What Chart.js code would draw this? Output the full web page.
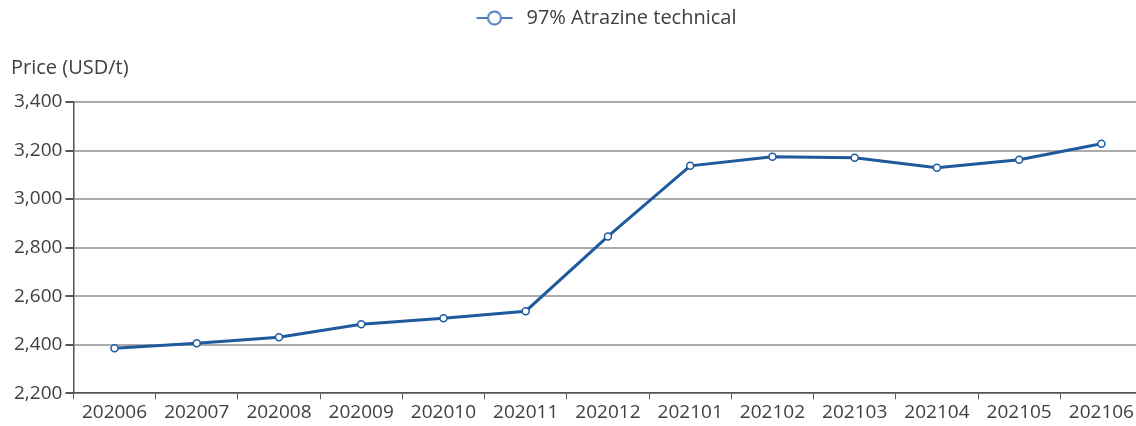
<!DOCTYPE html>
<html>
<head>
<meta charset="utf-8">
<script src="https://cdn.jsdelivr.net/npm/chart.js@4/dist/chart.umd.min.js"></script>
<style>
  html, body { margin: 0; padding: 0; background: #fff; overflow: hidden; }
  /* the original plot runs slightly past the right edge */
  #wrap { width: 1148px; height: 426px; }
</style>
</head>
<body>
<div id="wrap"><canvas id="chart"></canvas></div>
<script>
const months = ["202006", "202007", "202008", "202009", "202010", "202011", "202012",
    "202101", "202102", "202103", "202104", "202105", "202106"];
const atrazine = [2385, 2406, 2431, 2484, 2509, 2538, 2846, 3137, 3174, 3170, 3129, 3162, 3228];
const seriesName = "97% Atrazine technical";
const yTitle = "Price (USD/t)";

const blue = "#1f5a9e";
const font = "'Open Sans', 'Noto Sans', sans-serif";

// legend marker: line with hollow circle
const marker = document.createElement("canvas");
marker.width = 38;
marker.height = 16;
(function () {
    const c = marker.getContext("2d");
    c.strokeStyle = "#4f7fbf";
    c.lineWidth = 2;
    c.beginPath();
    c.moveTo(1, 8); c.lineTo(37, 8);
    c.stroke();
    c.fillStyle = "#fff";
    c.beginPath();
    c.arc(19, 8, 6.5, 0, Math.PI * 2);
    c.fill();
    c.stroke();
})();

// the legend sits a bit right of centre in the original
const shiftLegend = {
    id: "shiftLegend",
    afterLayout(chart) {
        chart.legend.left += 25;
        chart.legend.right += 25;
    },
};

new Chart(document.getElementById("chart"), {
    type: "line",
    data: {
        labels: months,
        datasets: [{
            label: seriesName,
            data: atrazine,
            borderColor: blue,
            borderWidth: 3,
            pointBackgroundColor: "#fff",
            pointBorderColor: blue,
            pointBorderWidth: 1.5,
            pointRadius: 3.5,
            pointStyle: "circle",
            tension: 0,
        }],
    },
    plugins: [shiftLegend],
    options: {
        responsive: true,
        maintainAspectRatio: false,
        animation: false,
        layout: { padding: { left: 11, right: 0, top: 0, bottom: 0 } },
        plugins: {
            legend: {
                position: "top",
                weight: 3000,
                labels: {
                    usePointStyle: true,
                    pointStyle: marker,
                    pointStyleWidth: 44,
                    color: "#404040",
                    font: { family: font, size: 20 },
                    padding: 8,
                },
            },
            title: {
                display: true,
                text: yTitle,
                align: "start",
                color: "#404040",
                font: { family: font, size: 20, weight: "normal" },
                padding: { top: 18, bottom: 22 },
            },
            tooltip: { enabled: false },
        },
        scales: {
            x: {
                offset: true,
                grid: {
                    offset: true,
                    drawOnChartArea: false,
                    drawTicks: true,
                    tickLength: 6,
                    color: "#555",
                },
                border: { color: "#555", width: 1.5 },
                ticks: {
                    color: "#404040",
                    font: { family: font, size: 19 },
                    maxRotation: 0,
                    autoSkip: false,
                    padding: 2,
                },
            },
            y: {
                min: 2200,
                max: 3400,
                grid: {
                    color: "#ababab",
                    lineWidth: 2,
                    tickLength: 8,
                    tickColor: "#555",
                },
                border: { color: "#555", width: 1.5 },
                ticks: {
                    stepSize: 200,
                    color: "#404040",
                    font: { family: font, size: 19 },
                    padding: 3,
                },
            },
        },
    },
});
</script>
</body>
</html>
